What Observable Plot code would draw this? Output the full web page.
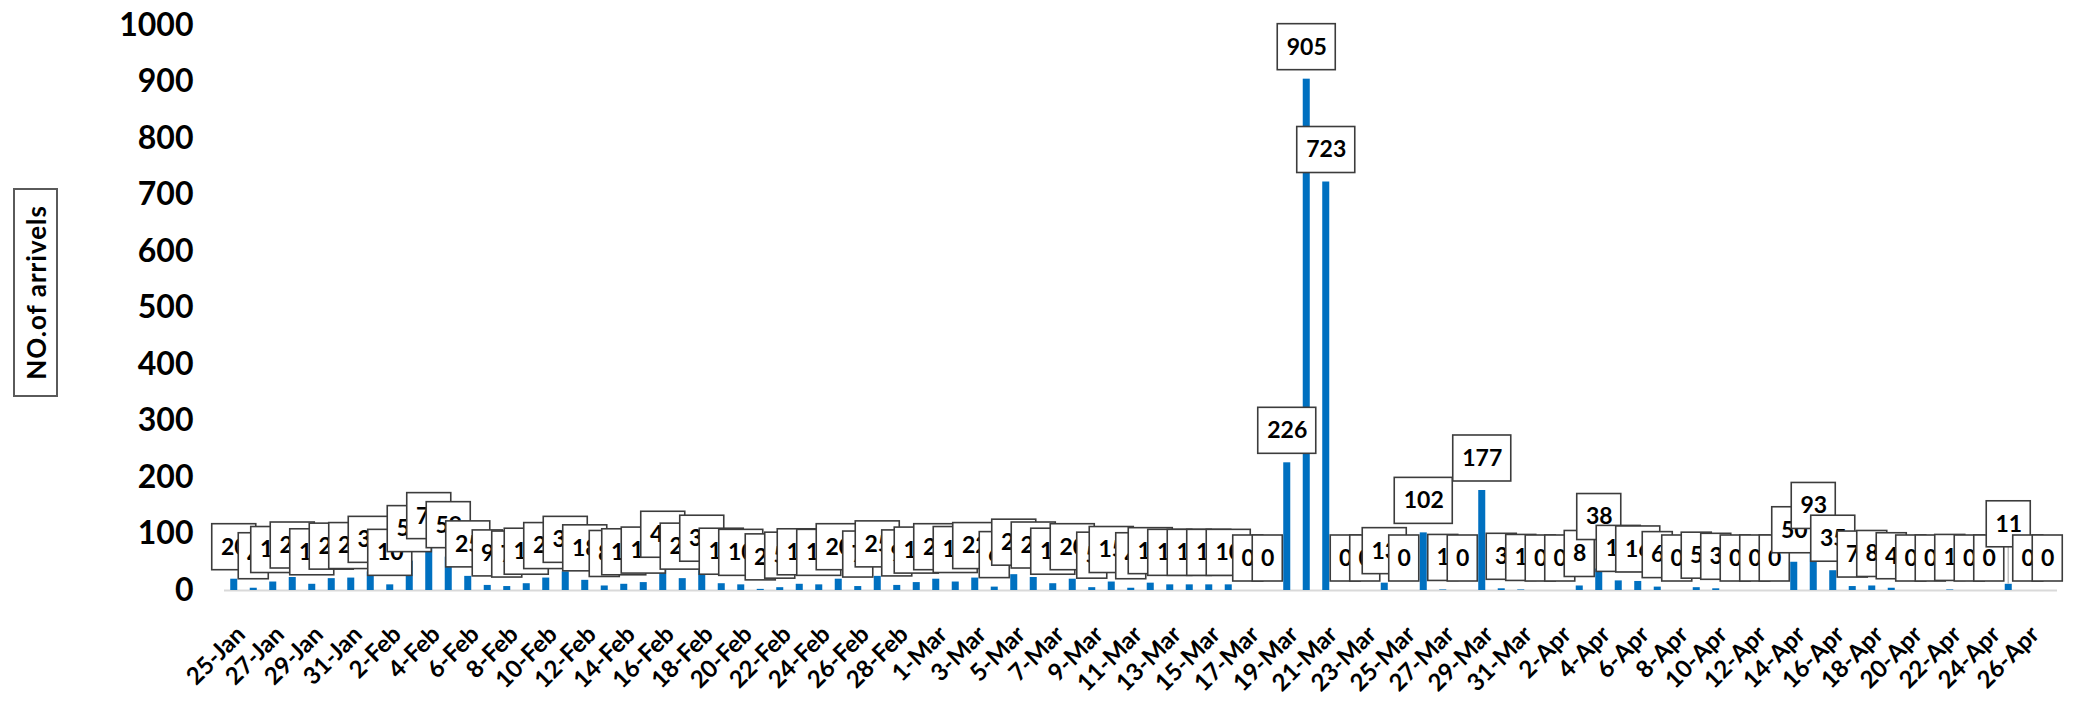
<!DOCTYPE html>
<html><head><meta charset="utf-8">
<script src="https://cdn.jsdelivr.net/npm/d3@7"></script>
<script src="https://cdn.jsdelivr.net/npm/@observablehq/plot@0.6"></script>
<style>
body{margin:0;background:#fff;font-family:Lato,sans-serif}
#wrap{position:relative;width:2079px;height:707px;overflow:hidden}
#ylab{position:absolute;left:13px;top:188px;width:41px;height:205px;border:2px solid #5a5a5a;display:flex;align-items:center;justify-content:center;background:#fff}
#ylab span{writing-mode:vertical-rl;transform:rotate(180deg);font:700 26px Lato,sans-serif;letter-spacing:1px;color:#000;white-space:nowrap}
</style></head><body>
<div id="wrap"><div id="chart"></div><div id="ylab"><span>NO.of arrivels</span></div></div>
<script>
const dates = [
"25-Jan","26-Jan","27-Jan","28-Jan","29-Jan","30-Jan","31-Jan",
"1-Feb","2-Feb","3-Feb","4-Feb","5-Feb","6-Feb","7-Feb","8-Feb","9-Feb","10-Feb",
"11-Feb","12-Feb","13-Feb","14-Feb","15-Feb","16-Feb","17-Feb","18-Feb","19-Feb","20-Feb",
"21-Feb","22-Feb","23-Feb","24-Feb","25-Feb","26-Feb","27-Feb","28-Feb","29-Feb",
"1-Mar","2-Mar","3-Mar","4-Mar","5-Mar","6-Mar","7-Mar","8-Mar","9-Mar","10-Mar",
"11-Mar","12-Mar","13-Mar","14-Mar","15-Mar","16-Mar","17-Mar","18-Mar","19-Mar","20-Mar",
"21-Mar","22-Mar","23-Mar","24-Mar","25-Mar","26-Mar","27-Mar","28-Mar","29-Mar","30-Mar","31-Mar",
"1-Apr","2-Apr","3-Apr","4-Apr","5-Apr","6-Apr","7-Apr","8-Apr","9-Apr","10-Apr",
"11-Apr","12-Apr","13-Apr","14-Apr","15-Apr","16-Apr","17-Apr","18-Apr","19-Apr","20-Apr",
"21-Apr","22-Apr","23-Apr","24-Apr","25-Apr","26-Apr","27-Apr"
];
const arrivals = [
20,4,15,23,11,21,22,
33,10,52,75,59,25,9,7,12,22,
33,18,8,11,14,42,21,35,12,10,
2,5,11,10,20,7,25,9,14,
20,15,22,6,28,23,12,20,5,15,
4,13,10,10,10,10,0,0,226,905,
723,0,0,13,0,102,1,0,177,3,1,
0,0,8,38,17,16,6,0,5,3,
0,0,0,50,93,35,7,8,4,0,
0,1,0,0,11,0,0
];
const tickLabels = [
"25-Jan","27-Jan","29-Jan","31-Jan","2-Feb","4-Feb","6-Feb","8-Feb","10-Feb","12-Feb",
"14-Feb","16-Feb","18-Feb","20-Feb","22-Feb","24-Feb","26-Feb","28-Feb","1-Mar","3-Mar",
"5-Mar","7-Mar","9-Mar","11-Mar","13-Mar","15-Mar","17-Mar","19-Mar","21-Mar","23-Mar",
"25-Mar","27-Mar","29-Mar","31-Mar","2-Apr","4-Apr","6-Apr","8-Apr","10-Apr","12-Apr",
"14-Apr","16-Apr","18-Apr","20-Apr","22-Apr","24-Apr","26-Apr"
];
const yTicks = [0,100,200,300,400,500,600,700,800,900,1000];

const data = dates.map((date, i) => ({date, value: arrivals[i]}));

// label styling (Excel-like data-label boxes)
const BAR_W = 7;
const boxW = {1: 30, 2: 44, 3: 58};
const BOX_H = 46, GAP = 9;
const lifted = {"4-Apr": 20, "25-Apr": 28}; // labels dragged up with leader lines

const labelMarks = data.flatMap(d => {
  const w = boxW[String(d.value).length];
  const ins = (BAR_W - w) / 2;
  const lift = lifted[d.date] || 0;
  const marks = [];
  if (lift) {
    marks.push(Plot.barY([d], {x: "date", y1: "value", y2: "value",
      insetTop: -(GAP + lift), insetBottom: 0, insetLeft: 2.75, insetRight: 2.75, fill: "#bfbfbf"}));
  }
  marks.push(Plot.barY([d], {x: "date", y1: "value", y2: "value",
    insetTop: -(GAP + BOX_H + lift), insetBottom: GAP + lift,
    insetLeft: ins, insetRight: ins,
    fill: "white", stroke: "#3c3c3c", strokeWidth: 1.6}));
  marks.push(Plot.text([d], {x: "date", y: "value", text: e => String(e.value),
    dy: -(GAP + BOX_H / 2 + lift), fontSize: 23, fontWeight: 700, fill: "#000", lineAnchor: "middle"}));
  return marks;
});

const chart = Plot.plot({
  width: 2079, height: 707,
  marginLeft: 224, marginRight: 22, marginTop: 25, marginBottom: 117,
  style: {fontFamily: "Lato, sans-serif", color: "#000", background: "transparent"},
  x: {type: "band", domain: dates, paddingInner: 0.64, paddingOuter: 0.32},
  y: {domain: [0, 1000]},
  marks: [
    Plot.ruleY([0], {stroke: "#d9d9d9", strokeWidth: 2}),
    Plot.barY(data, {x: "date", y: "value", fill: "#0070C0"}),
    ...labelMarks,
    Plot.axisY({ticks: yTicks, tickFormat: d => String(d), tickSize: 0, tickPadding: 31, fontSize: 32, fontWeight: 700, label: null}),
    Plot.axisX({ticks: tickLabels, tickRotate: -45, tickSize: 0, tickPadding: 40, dx: 7, fontSize: 24, fontWeight: 700, label: null})
  ]
});
document.getElementById("chart").appendChild(chart);
</script>
</body></html>
